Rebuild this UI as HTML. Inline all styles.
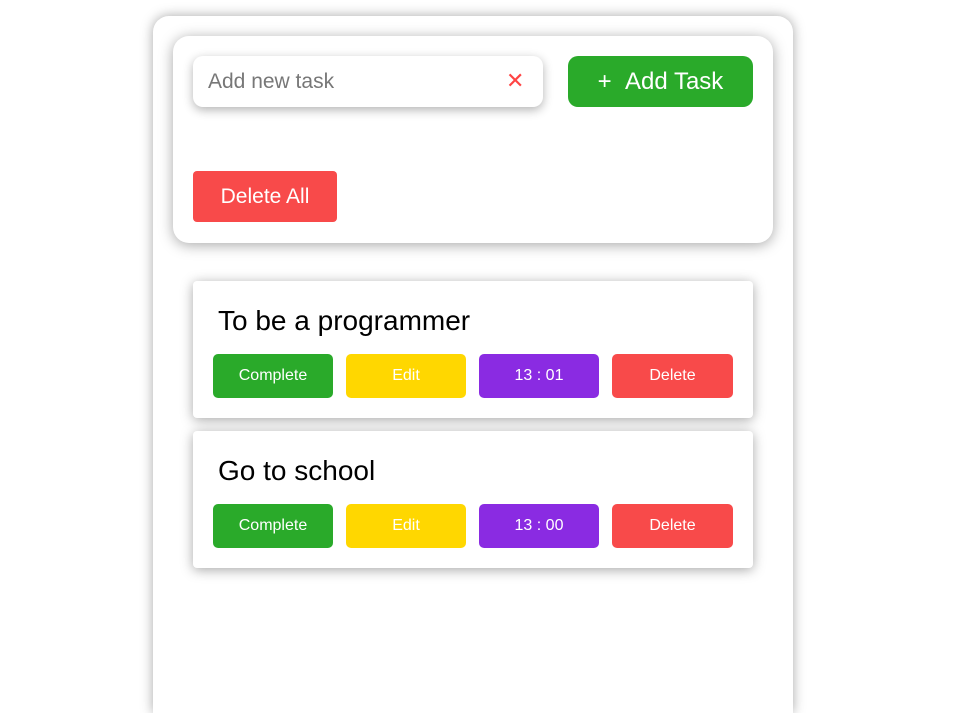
<!DOCTYPE html>
<html style="width:965px;height:713px;overflow:hidden"><head><style>
*{margin:0;padding:0;box-sizing:border-box}
body{width:965px;height:713px;background:#fff;font-family:"Liberation Sans",sans-serif;position:relative;overflow:hidden}
.abs{position:absolute}
.outer{left:153px;top:16px;width:640px;height:697px;border-radius:16px 16px 0 0;background:#fff;box-shadow:0 0 12px rgba(0,0,0,.35)}
.panel{left:173px;top:36px;width:600px;height:207px;border-radius:16px;background:#fff;box-shadow:0 2px 14px rgba(0,0,0,.35)}
.input{left:193px;top:56px;width:350px;height:51px;border-radius:10px;background:#fff;box-shadow:0 3px 10px rgba(0,0,0,.3);color:#777;font-size:21px;line-height:51px;padding-left:15px}
.x{left:506px;top:66px;color:#f44;font-size:22px;line-height:30px}
.btn{display:flex;align-items:center;justify-content:center;color:#fff}
.card{left:193px;width:560px;height:137px;background:#fff;border-radius:4px;box-shadow:0 2px 12px rgba(0,0,0,.35)}
.title{font-size:28px;color:#000;left:218px}
.sb{width:120px;height:44px;border-radius:5px;font-size:16px}
</style></head><body>
<div class="abs outer"></div>
<div class="abs panel"></div>
<div class="abs input">Add new task</div>
<div class="abs x">✕</div>
<div class="abs btn" style="left:568px;top:56px;width:185px;height:51px;border-radius:10px;background:#2aaa2a;font-size:24px">+&nbsp;&nbsp;Add Task</div>
<div class="abs btn" style="left:193px;top:171px;width:144px;height:51px;border-radius:4px;background:#f84a4a;font-size:21px">Delete All</div>

<div class="abs card" style="top:281px"></div>
<div class="abs title" style="top:305px">To be a programmer</div>
<div class="abs btn sb" style="left:213px;top:354px;background:#2aaa2a">Complete</div>
<div class="abs btn sb" style="left:346px;top:354px;background:#ffd700">Edit</div>
<div class="abs btn sb" style="left:479px;top:354px;background:#8a2be2">13 : 01</div>
<div class="abs btn sb" style="left:612px;top:354px;width:121px;background:#f84a4a">Delete</div>

<div class="abs card" style="top:431px"></div>
<div class="abs title" style="top:455px">Go to school</div>
<div class="abs btn sb" style="left:213px;top:504px;background:#2aaa2a">Complete</div>
<div class="abs btn sb" style="left:346px;top:504px;background:#ffd700">Edit</div>
<div class="abs btn sb" style="left:479px;top:504px;background:#8a2be2">13 : 00</div>
<div class="abs btn sb" style="left:612px;top:504px;width:121px;background:#f84a4a">Delete</div>
</body></html>
